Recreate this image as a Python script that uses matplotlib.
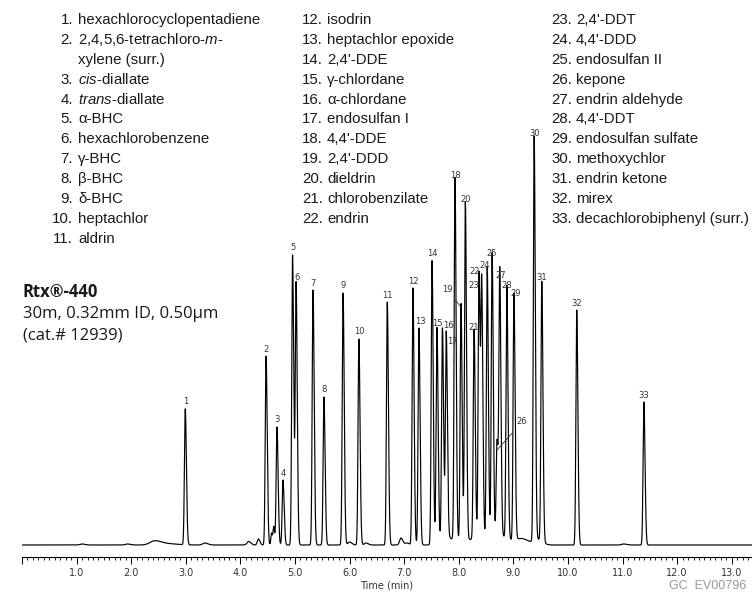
import matplotlib
matplotlib.use('Agg')
import matplotlib.pyplot as plt
import numpy as np
from matplotlib.ticker import MultipleLocator, FuncFormatter

plt.rcParams['mathtext.fontset'] = 'custom'
plt.rcParams['mathtext.rm'] = 'Liberation Sans'
plt.rcParams['mathtext.it'] = 'Liberation Sans:italic'

# Peaks: retention time (min), height, width
peak_no = list(range(1, 34))
peak_time = [2.99, 4.47, 4.67, 4.78, 4.955, 5.02, 5.33, 5.53, 5.88, 6.17,
             6.69, 7.16, 7.27, 7.51, 7.60, 7.70, 7.77, 7.93, 8.04, 8.12,
             8.28, 8.37, 8.42, 8.52, 8.61, 8.70, 8.75, 8.88, 9.01, 9.38,
             9.52, 10.16, 11.39]
peak_height = [136, 189, 118, 65, 290, 261, 255, 148, 252, 206,
               243, 257, 217, 284, 215, 210, 205, 363, 238, 339,
               210, 267, 248, 273, 285, 95, 263, 253, 247, 405,
               260, 235, 143]
peak_sigma = [0.015] * 33

# small baseline bumps / humps
minor_time = [1.10, 1.93, 2.42, 2.60, 3.35, 4.15, 4.33, 4.57, 4.61, 6.00,
              6.30, 6.94, 7.05, 7.75, 8.30, 8.75, 9.15, 9.45, 11.02]
minor_height = [1.0, 1.0, 3.5, 1.5, 2.0, 3.5, 6.0, 12, 18, 3,
                2, 7, 2, 8, 6, 8, 6, 5, 1]
minor_sigma = [0.04, 0.04, 0.08, 0.15, 0.04, 0.03, 0.02, 0.012, 0.012, 0.03,
               0.03, 0.025, 0.03, 0.1, 0.2, 0.12, 0.1, 0.06, 0.04]

compounds_1 = ['hexachlorocyclopentadiene', '2,4,5,6-tetrachloro-$\\mathit{m}$-',
               'xylene (surr.)', '$\\mathit{cis}$-diallate', '$\\mathit{trans}$-diallate',
               'α-BHC', 'hexachlorobenzene', 'γ-BHC', 'β-BHC', 'δ-BHC',
               'heptachlor', 'aldrin']
numbers_1 = ['1.', '2.', '', '3.', '4.', '5.', '6.', '7.', '8.', '9.', '10.', '11.']
compounds_2 = ['isodrin', 'heptachlor epoxide', "2,4'-DDE", 'γ-chlordane', 'α-chlordane',
               'endosulfan I', "4,4'-DDE", "2,4'-DDD", 'dieldrin', 'chlorobenzilate', 'endrin']
compounds_3 = ["2,4'-DDT", "4,4'-DDD", 'endosulfan II', 'kepone', 'endrin aldehyde',
               "4,4'-DDT", 'endosulfan sulfate', 'methoxychlor', 'endrin ketone', 'mirex',
               'decachlorobiphenyl (surr.)']


def apeak(t, t0, h, s):
    s_r = s * 1.4
    return np.where(t < t0, h * np.exp(-0.5 * ((t - t0) / s) ** 2),
                    h * np.exp(-0.5 * ((t - t0) / s_r) ** 2))


t = np.linspace(0, 13.37, 40000)
signal = np.zeros_like(t)
for t0, h, s in zip(peak_time, peak_height, peak_sigma):
    signal += apeak(t, t0, h, s)
for t0, h, s in zip(minor_time, minor_height, minor_sigma):
    signal += apeak(t, t0, h, s)

W, H = 752, 594
fig = plt.figure(figsize=(W / 100, H / 100), dpi=100)
ax = fig.add_axes([22 / W, 37 / H, 730 / W, 457 / H])
ax.plot(t, signal, color='black', lw=0.85)
ax.set_xlim(0, 13.37)
ax.set_ylim(-12, 445)

for s in ['top', 'right', 'left']:
    ax.spines[s].set_visible(False)
ax.spines['bottom'].set_linewidth(0.8)
ax.set_yticks([])
ax.xaxis.set_major_locator(MultipleLocator(1.0))
ax.xaxis.set_minor_locator(MultipleLocator(0.1))
ax.xaxis.set_major_formatter(FuncFormatter(lambda v, p: '' if v < 0.5 else f'{v:.1f}'))
ax.tick_params(axis='x', which='major', length=5, width=0.7, labelsize=7,
               labelcolor='#333333', pad=3)
ax.tick_params(axis='x', which='minor', length=2.5, width=0.6)
ax.set_xlabel('Time (min)', fontsize=7, color='#333333', labelpad=2)

# peak labels: offsets in px from apex (label centre)
offsets = {16: (6, -10), 17: (6, 1), 22: (-4, -6), 24: (-3, -7), 27: (1, -7),
           28: (0, -7), 29: (2, -5), 6: (1, -7), 13: (1, -6), 15: (0, -7)}
leaders = {19: (-14, -17), 23: (-8, -12), 26: (25, -28)}
for n, t0, h in zip(peak_no, peak_time, peak_height):
    kw = dict(fontsize=6, color='#333333', ha='center', va='center')
    if n in leaders:
        dx, dy = leaders[n]
        ax.annotate(str(n), xy=(t0, h), xytext=(dx * 0.72, -dy * 0.72),
                    textcoords='offset points',
                    arrowprops=dict(arrowstyle='-', lw=0.6, color='#333333',
                                    shrinkA=3, shrinkB=0), **kw)
    else:
        dx, dy = offsets.get(n, (0, -7))
        ax.annotate(str(n), xy=(t0, h), xytext=(dx * 0.72, -dy * 0.72),
                    textcoords='offset points', **kw)


def px(x, y):
    return x / W, 1 - y / H


list_font = dict(fontsize=10.8, color='#1a1a1a', va='center', family='Liberation Sans')
row = 19.9
for i, (num, name) in enumerate(zip(numbers_1, compounds_1)):
    y = 20 + i * row
    fig.text(*px(73, y), num, ha='right', **list_font)
    fig.text(*px(78, y), name, ha='left', **list_font)
for i, name in enumerate(compounds_2):
    y = 20 + i * row
    fig.text(*px(323, y), f'{i + 12}.', ha='right', **list_font)
    fig.text(*px(327, y), name, ha='left', **list_font)
for i, name in enumerate(compounds_3):
    y = 20 + i * row
    fig.text(*px(572, y), f'{i + 23}.', ha='right', **list_font)
    fig.text(*px(576, y), name, ha='left', **list_font)

col_font = dict(fontsize=12, color='#1a1a1a', va='center', ha='left', family='Open Sans')
fig.text(*px(23, 292), 'Rtx®-440', fontweight='bold', **col_font)
fig.text(*px(23, 314), '30m, 0.32mm ID, 0.50µm', **col_font)
fig.text(*px(23, 336), '(cat.# 12939)', **col_font)

fig.text(*px(746, 586), 'GC  EV00796', ha='right', va='center', fontsize=9,
         color='#9a9a9a', family='Liberation Sans')

fig.savefig('out.png', dpi=100)
